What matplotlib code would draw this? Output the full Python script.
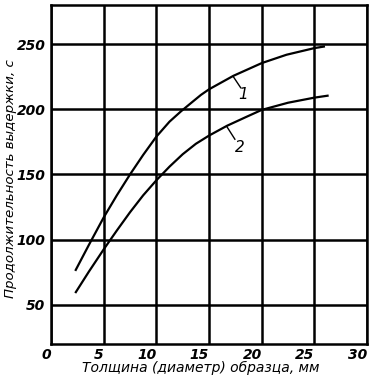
import matplotlib
matplotlib.use("Agg")
import matplotlib.pyplot as plt

x1 = [2.3, 3.6, 5.0, 6.25, 7.5, 8.75, 10.0, 11.25, 12.35, 13.4, 14.23, 15.0, 17.3, 20.0, 22.35, 25.0, 26.0]
y1 = [76, 96, 117, 134, 150, 165, 179, 190.5, 198.5, 205.5, 211, 215.3, 225.6, 235.4, 241.8, 246.9, 248.2]
x2 = [2.3, 3.6, 5.0, 6.25, 7.5, 8.75, 10.0, 11.25, 12.5, 13.75, 15.0, 16.7, 18.5, 20.0, 22.5, 25.0, 26.35]
y2 = [59, 75.5, 92.5, 107, 121, 134, 145.5, 156, 165.5, 173.5, 179.8, 187.3, 194, 199.5, 205, 208.9, 210.5]
xticks = [0, 5, 10, 15, 20, 25, 30]
yticks = [50, 100, 150, 200, 250]
xlabel = "Толщина (диаметр) образца, мм"
ylabel = "Продолжительность выдержки, с"

plt.rcParams['font.family'] = ['DejaVu Sans']
fig = plt.figure(figsize=(3.75, 3.8), dpi=100)
ax = fig.add_axes([0.136, 0.095, 0.843, 0.892])
ax.set_xlim(0, 30)
ax.set_ylim(20, 280)
ax.set_xticks(xticks)
ax.set_yticks(yticks)
ax.grid(True, color='black', linewidth=1.8)
for s in ax.spines.values():
    s.set_linewidth(1.8)
ax.tick_params(length=0)
ax.tick_params(axis='x', pad=3)
ax.tick_params(axis='y', pad=4)
tickfam = ['Liberation Sans Narrow', 'DejaVu Sans']
for lab in ax.get_xticklabels() + ax.get_yticklabels():
    lab.set_family(tickfam)
    lab.set_fontstyle('italic')
    lab.set_fontweight('bold')
    lab.set_fontsize(10)
for lab in ax.get_xticklabels():
    lab.set_horizontalalignment('right')

ax.plot(x1, y1, color='black', linewidth=1.6, solid_capstyle='butt')
ax.plot(x2, y2, color='black', linewidth=1.6, solid_capstyle='butt')

# leader lines and labels
ax.plot([17.3, 18.0], [225, 216.5], color='black', linewidth=1.0)
ax.text(18.2, 211, '1', fontsize=11, style='italic', ha='center', va='center', family=tickfam)
ax.plot([16.7, 17.45], [186.5, 177], color='black', linewidth=1.0)
ax.text(17.95, 170.5, '2', fontsize=11, style='italic', ha='center', va='center', family=tickfam)

fig.text(0.535, 0.031, xlabel, ha='center', va='center', fontsize=10, style='italic')
fig.text(0.028, 0.53, ylabel, ha='center', va='center', fontsize=9.6, style='italic', rotation=90)

fig.savefig('out.png', dpi=100)
